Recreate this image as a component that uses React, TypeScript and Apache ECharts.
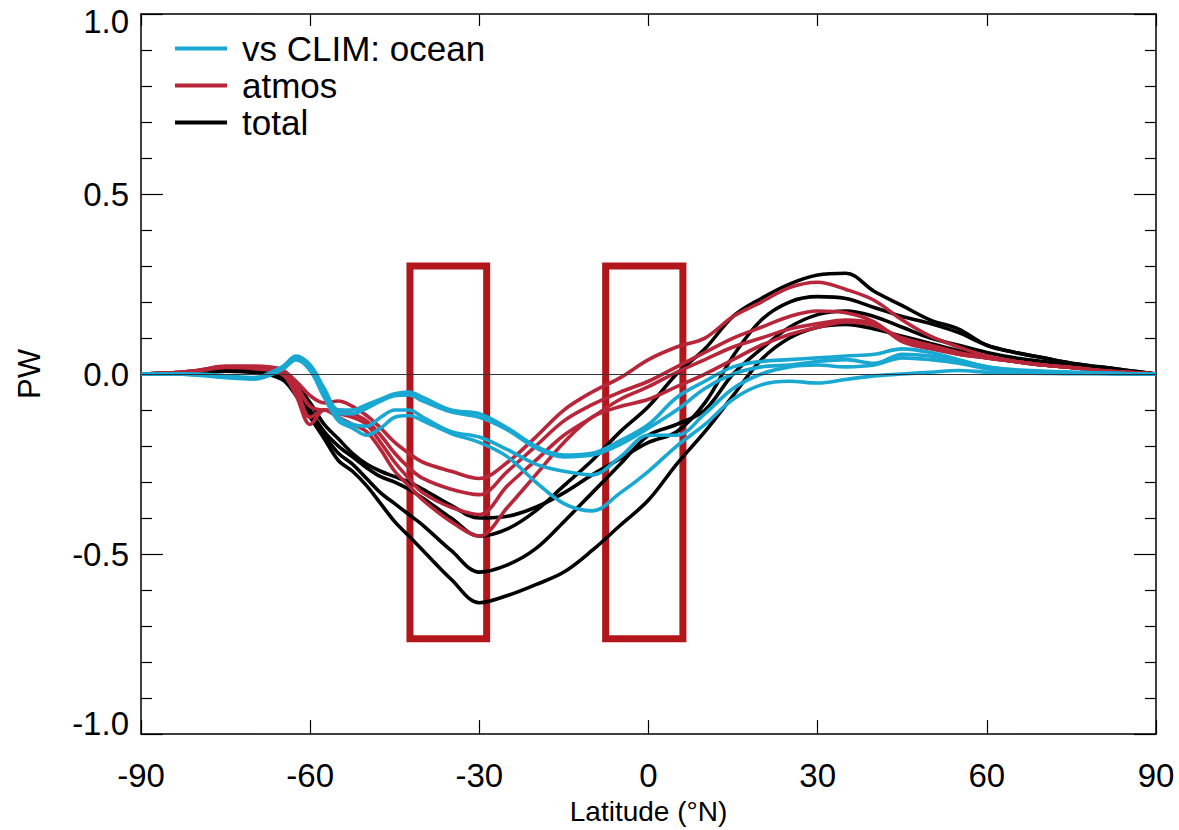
import React, { useEffect, useRef } from "react";
import * as echarts from "echarts";

const LAT = [-90, -85, -80, -75, -70, -65, -62.5, -60, -57.5, -55, -52.5, -50, -47.5, -45, -42.5, -40, -35, -30, -25, -20, -15, -10, -5, 0, 5, 10, 15, 20, 25, 30, 35, 40, 45, 50, 55, 60, 65, 70, 75, 80, 85, 90];

const X_TICKS = [-90, -60, -30, 0, 30, 60, 90];
const Y_TICKS = [-1.0, -0.5, 0.0, 0.5, 1.0];

const LEGEND_NAMES = ["vs CLIM: ocean", "atmos", "total"];

// ocean (cyan)
const OCEAN_1 = [0, 0, 0, -0.005, -0.01, 0.02, 0.05, 0.025, -0.04, -0.1, -0.1, -0.085, -0.07, -0.055, -0.05, -0.065, -0.1, -0.11, -0.15, -0.2, -0.225, -0.22, -0.185, -0.14, -0.065, -0.02, 0.02, 0.035, 0.04, 0.045, 0.05, 0.055, 0.07, 0.06, 0.04, 0.02, 0.012, 0.008, 0.005, 0.003, 0.001, 0];
const OCEAN_2 = [0, 0, -0.002, -0.008, -0.012, 0.015, 0.045, 0.02, -0.05, -0.11, -0.11, -0.095, -0.075, -0.06, -0.058, -0.075, -0.105, -0.12, -0.155, -0.205, -0.23, -0.225, -0.195, -0.15, -0.1, -0.04, 0.0, 0.02, 0.025, 0.035, 0.04, 0.03, 0.055, 0.05, 0.035, 0.02, 0.01, 0.007, 0.005, 0.003, 0.001, 0];
const OCEAN_3 = [0, 0, -0.002, -0.008, -0.012, 0.015, 0.04, 0.015, -0.06, -0.12, -0.14, -0.145, -0.12, -0.1, -0.1, -0.12, -0.16, -0.175, -0.21, -0.25, -0.27, -0.28, -0.23, -0.17, -0.17, -0.11, -0.04, 0.0, 0.02, 0.025, 0.02, 0.025, 0.045, 0.04, 0.03, 0.015, 0.008, 0.005, 0.003, 0.002, 0.001, 0];
const OCEAN_4 = [0, 0, -0.003, -0.01, -0.014, 0.012, 0.04, 0.01, -0.065, -0.13, -0.15, -0.17, -0.15, -0.12, -0.115, -0.13, -0.165, -0.19, -0.23, -0.3, -0.36, -0.38, -0.33, -0.27, -0.2, -0.14, -0.07, -0.03, -0.02, -0.025, -0.015, -0.005, 0.0, 0.005, 0.01, 0.005, 0.003, 0.002, 0.001, 0.001, 0, 0];

// atmos (red)
const ATMOS_1 = [0, 0.003, 0.01, 0.02, 0.02, 0.01, -0.02, -0.06, -0.08, -0.075, -0.09, -0.115, -0.15, -0.19, -0.22, -0.245, -0.27, -0.29, -0.245, -0.175, -0.1, -0.05, -0.01, 0.04, 0.075, 0.1, 0.16, 0.2, 0.24, 0.255, 0.235, 0.205, 0.15, 0.105, 0.075, 0.05, 0.035, 0.025, 0.018, 0.01, 0.005, 0];
const ATMOS_2 = [0, 0.003, 0.01, 0.022, 0.022, 0.012, -0.03, -0.09, -0.1, -0.1, -0.11, -0.13, -0.17, -0.22, -0.26, -0.29, -0.32, -0.335, -0.27, -0.2, -0.13, -0.085, -0.05, -0.02, 0.02, 0.06, 0.1, 0.13, 0.16, 0.175, 0.17, 0.145, 0.09, 0.07, 0.055, 0.045, 0.035, 0.025, 0.018, 0.01, 0.005, 0];
const ATMOS_3 = [0, 0.003, 0.01, 0.02, 0.018, 0.0, -0.04, -0.12, -0.1, -0.11, -0.12, -0.14, -0.19, -0.245, -0.29, -0.33, -0.37, -0.39, -0.31, -0.24, -0.17, -0.12, -0.07, -0.035, 0.005, 0.04, 0.075, 0.1, 0.125, 0.14, 0.15, 0.14, 0.095, 0.075, 0.055, 0.045, 0.035, 0.025, 0.018, 0.01, 0.005, 0];
const ATMOS_4 = [0, 0.003, 0.008, 0.018, 0.015, 0.0, -0.06, -0.14, -0.1, -0.12, -0.14, -0.16, -0.21, -0.27, -0.31, -0.35, -0.41, -0.45, -0.37, -0.28, -0.19, -0.12, -0.09, -0.07, -0.035, 0.0, 0.04, 0.08, 0.11, 0.13, 0.145, 0.135, 0.1, 0.08, 0.06, 0.045, 0.035, 0.025, 0.018, 0.01, 0.005, 0];

// total (black)
const TOTAL_1 = [0, 0.002, 0.005, 0.01, 0.01, 0.0, -0.03, -0.08, -0.14, -0.18, -0.22, -0.25, -0.27, -0.285, -0.3, -0.32, -0.365, -0.4, -0.395, -0.37, -0.33, -0.28, -0.235, -0.19, -0.16, -0.08, 0.05, 0.15, 0.2, 0.215, 0.21, 0.185, 0.16, 0.14, 0.115, 0.08, 0.06, 0.045, 0.03, 0.02, 0.01, 0];
const TOTAL_2 = [0, 0.002, 0.005, 0.01, 0.005, -0.01, -0.04, -0.1, -0.16, -0.2, -0.23, -0.26, -0.285, -0.3, -0.32, -0.345, -0.4, -0.45, -0.43, -0.38, -0.31, -0.24, -0.16, -0.09, 0.0, 0.07, 0.16, 0.21, 0.25, 0.275, 0.28, 0.23, 0.19, 0.15, 0.125, 0.08, 0.06, 0.045, 0.03, 0.02, 0.01, 0];
const TOTAL_3 = [0, 0.002, 0.005, 0.008, 0.005, -0.01, -0.05, -0.11, -0.17, -0.22, -0.25, -0.29, -0.33, -0.36, -0.39, -0.42, -0.49, -0.55, -0.53, -0.485, -0.41, -0.33, -0.25, -0.17, -0.14, -0.1, 0.0, 0.07, 0.13, 0.165, 0.175, 0.16, 0.13, 0.1, 0.08, 0.06, 0.045, 0.035, 0.025, 0.015, 0.008, 0];
const TOTAL_4 = [0, 0.002, 0.005, 0.008, 0.005, -0.015, -0.06, -0.12, -0.18, -0.24, -0.27, -0.31, -0.36, -0.41, -0.45, -0.49, -0.57, -0.635, -0.615, -0.585, -0.55, -0.49, -0.42, -0.35, -0.25, -0.16, -0.06, 0.04, 0.1, 0.13, 0.138, 0.125, 0.105, 0.085, 0.065, 0.047, 0.035, 0.025, 0.018, 0.01, 0.005, 0];

// highlighted latitude bands (annotation boxes): [lat0, lat1, top, bottom]
const BOX_1 = [-42.3, -28.7, 0.3, -0.735];
const BOX_2 = [-7.6, 6.1, 0.3, -0.735];

const CYAN = "#19a8d1";
const RED = "#b8263a";
const BLACK = "#000000";
const BOX_RED = "#b2161b";
const FONT = "Liberation Sans";

function mkSeries(name: string, vals: number[], color: string, z: number) {
  return {
    type: "line",
    name,
    data: LAT.map((x, i) => [x, vals[i]]),
    showSymbol: false,
    symbol: "none",
    smooth: 0.35,
    z,
    lineStyle: { color, width: 3.6 },
    itemStyle: { color },
    emphasis: { disabled: true },
  };
}

export default function App() {
  const ref = useRef<HTMLDivElement>(null);
  useEffect(() => {
    if (!ref.current) return;
    const chart = echarts.init(ref.current, null, { renderer: "svg" });
    const series: any[] = [];
    [TOTAL_1, TOTAL_2, TOTAL_3, TOTAL_4].forEach((v) => series.push(mkSeries(LEGEND_NAMES[2], v, BLACK, 2)));
    [ATMOS_1, ATMOS_2, ATMOS_3, ATMOS_4].forEach((v) => series.push(mkSeries(LEGEND_NAMES[1], v, RED, 3)));
    [OCEAN_1, OCEAN_2, OCEAN_3, OCEAN_4].forEach((v) => series.push(mkSeries(LEGEND_NAMES[0], v, CYAN, 4)));
    // zero line
    series.push({
      type: "line",
      name: "zero",
      data: [],
      z: 1,
      markLine: {
        silent: true,
        symbol: "none",
        label: { show: false },
        lineStyle: { color: "#333", width: 1, type: "solid" },
        data: [{ yAxis: 0 }],
      },
    });
    // boxes
    series.push({
      type: "line",
      name: "boxes",
      data: [],
      z: 10,
      markArea: {
        silent: true,
        itemStyle: { color: "rgba(0,0,0,0)", borderColor: BOX_RED, borderWidth: 7 },
        data: [BOX_1, BOX_2].map((b) => [
          { coord: [b[0], b[2]] },
          { coord: [b[1], b[3]] },
        ]),
      },
    });

    const yMax = Y_TICKS[Y_TICKS.length - 1];
    const yMin = Y_TICKS[0];
    const axisLine = { show: true, onZero: false, lineStyle: { color: "#000", width: 1.5 } };
    chart.setOption({
      animation: false,
      backgroundColor: "#fff",
      grid: { left: 141, right: 23, top: 14, bottom: 89, containLabel: false },
      legend: {
        data: LEGEND_NAMES,
        orient: "vertical",
        left: 170,
        top: 25,
        icon: "rect",
        itemWidth: 52,
        itemHeight: 4,
        itemGap: 0,
        selectedMode: false,
        textStyle: { fontFamily: FONT, fontSize: 35, color: "#000", lineHeight: 37, padding: [0, 0, 0, 10] },
      },
      xAxis: [
        {
          type: "value",
          min: X_TICKS[0],
          max: X_TICKS[X_TICKS.length - 1],
          interval: 30,
          position: "bottom",
          name: "Latitude (°N)",
          nameLocation: "middle",
          nameGap: 62,
          nameTextStyle: { fontFamily: FONT, fontSize: 28, color: "#000" },
          axisLine,
          axisTick: { show: true, inside: true, length: 14, lineStyle: { color: "#000", width: 1.2 } },
          axisLabel: { fontFamily: FONT, fontSize: 33, color: "#000", margin: 25 },
          splitLine: { show: false },
        },
        {
          type: "value",
          min: X_TICKS[0],
          max: X_TICKS[X_TICKS.length - 1],
          interval: 30,
          position: "top",
          axisLine,
          axisTick: { show: true, inside: true, length: 12, lineStyle: { color: "#000", width: 1.2 } },
          axisLabel: { show: false },
          splitLine: { show: false },
        },
      ],
      yAxis: [
        {
          type: "value",
          min: yMin,
          max: yMax,
          interval: 0.5,
          position: "left",
          name: "PW",
          nameLocation: "middle",
          nameRotate: 90,
          nameGap: 96,
          nameTextStyle: { fontFamily: FONT, fontSize: 31, color: "#000" },
          axisLine,
          axisTick: { show: true, inside: true, length: 22, lineStyle: { color: "#000", width: 1.2 } },
          minorTick: { show: true, splitNumber: 5, length: 11, lineStyle: { color: "#000", width: 1.2 } },
          axisLabel: {
            fontFamily: FONT,
            fontSize: 33,
            color: "#000",
            margin: 12,
            formatter: (v: number) => {
              const s = v.toFixed(1);
              if (v === yMax) return "{top|" + s + "}";
              if (v === yMin) return "{bot|" + s + "}";
              return s;
            },
            rich: {
              top: { fontFamily: FONT, fontSize: 33, color: "#000", padding: [14, 0, 0, 0] },
              bot: { fontFamily: FONT, fontSize: 33, color: "#000", padding: [0, 0, 22, 0] },
            },
          },
          splitLine: { show: false },
          minorSplitLine: { show: false },
        },
        {
          type: "value",
          min: yMin,
          max: yMax,
          interval: 0.5,
          position: "right",
          axisLine,
          axisTick: { show: true, inside: true, length: 22, lineStyle: { color: "#000", width: 1.2 } },
          minorTick: { show: true, splitNumber: 5, length: 11, lineStyle: { color: "#000", width: 1.2 } },
          axisLabel: { show: false },
          splitLine: { show: false },
          minorSplitLine: { show: false },
        },
      ],
      series,
    });
    return () => chart.dispose();
  }, []);
  return (
    <div
      ref={ref}
      style={{ position: "fixed", left: 0, top: 0, width: 1179, height: 830, background: "#fff" }}
    />
  );
}
